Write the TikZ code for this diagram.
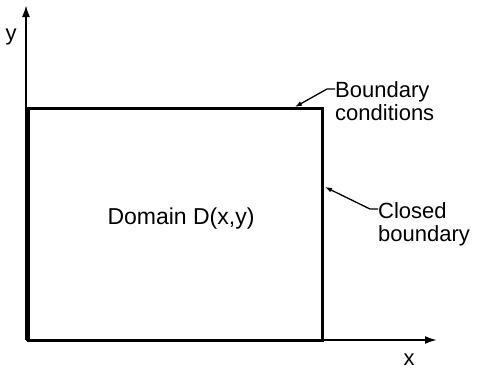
\documentclass[tikz,border=0pt]{standalone}
\usepackage{fontspec}
\setmainfont{Liberation Sans}
\usetikzlibrary{arrows.meta}

\begin{document}
\begin{tikzpicture}[x=1pt,y=-1pt,
  axis/.style={line width=2pt,-{Latex[length=12pt,width=8pt]}},
  leader/.style={line width=1.3pt,-{Latex[length=7pt,width=5pt]}},
  lbl/.style={font=\fontsize{22}{23.5}\selectfont,align=left,anchor=north west,inner sep=0pt}]
\useasboundingbox (0,0) rectangle (483,372);

% axes
\coordinate (O) at (26,340);
\coordinate (xend) at (437,340);
\coordinate (yend) at (26,5);
\draw[axis] (O) -- (xend);
\draw[axis] (O) -- (yend);
\node[font=\fontsize{22}{24}\selectfont] (xlab) at (409,360) {x};
\node[font=\fontsize{22}{24}\selectfont] (ylab) at (11,37) {y};

% domain
\node[draw,line width=3pt,minimum width=294pt,minimum height=232pt] (domain) at (175,224) {};
\node[font=\fontsize{23}{26}\selectfont] (dlab) at (181,219) {Domain D(x,y)};

% labels
\node[lbl] (bc) at (335,81) {Boundary\\conditions};
\node[lbl] (cb) at (378,202) {Closed\\boundary};

\coordinate (bctip) at (295,107);
\coordinate (cbtip) at (325,187);
\draw[leader] (bc.west |- 0,89) -- ++(-8,0) -- (bctip);
\draw[leader] (cb.west |- 0,209) -- ++(-8,0) -- (cbtip);
\end{tikzpicture}
\end{document}
